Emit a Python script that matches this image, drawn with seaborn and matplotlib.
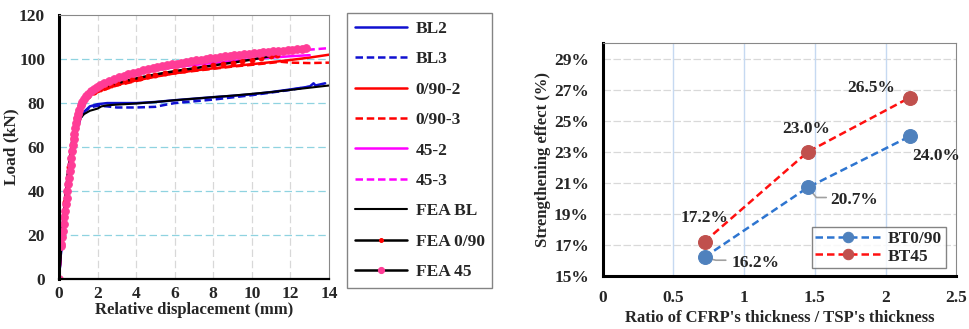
import matplotlib
matplotlib.use("Agg")
import matplotlib.pyplot as plt
import numpy as np
import pandas as pd
import seaborn as sns
from matplotlib.ticker import FuncFormatter

# ---- left panel: load vs relative displacement ----
bl2_x = [0, 0.1, 0.3, 0.5, 0.7, 0.9, 1.1, 1.3, 1.6, 2.0, 2.5, 3.0, 4.0, 5.0, 6.0, 7.0, 8.0, 9.0, 10.0, 11.0, 12.0, 13.0, 13.2, 13.3, 13.8]
bl2_y = [0, 12, 30, 45, 58, 67, 73, 76, 78.5, 79.5, 80, 80, 80, 80.5, 81.3, 82, 82.7, 83.3, 84, 85, 86.2, 87.5, 89, 88, 89]
bl3_x = [0, 0.1, 0.3, 0.5, 0.7, 0.9, 1.1, 1.3, 1.6, 2.0, 2.5, 3.0, 4.0, 5.0, 5.5, 6.0, 7.0, 8.0, 9.0, 10.0, 11.0, 12.0, 13.0]
bl3_y = [0, 12, 30, 45, 58, 67, 73, 76, 78, 78.8, 78.5, 78, 78, 78.3, 79.2, 80, 80.8, 81.6, 82.6, 83.6, 84.8, 86, 87.5]
r2_x = [0, 0.1, 0.3, 0.5, 0.7, 0.9, 1.1, 1.3, 1.6, 2.0, 2.5, 3.0, 4.0, 5.0, 6.0, 7.0, 8.0, 9.0, 10.0, 11.0, 12.0, 13.0, 14.0]
r2_y = [0, 14, 34, 50, 63, 72, 78, 81, 83.5, 85.5, 87, 88.3, 90.3, 92, 93.5, 94.8, 95.8, 96.8, 97.7, 98.6, 99.6, 100.7, 102]
r3_x = [0, 0.1, 0.3, 0.5, 0.7, 0.9, 1.1, 1.3, 1.6, 2.0, 2.5, 3.0, 4.0, 5.0, 6.0, 7.0, 8.0, 9.0, 10.0, 11.0, 11.5, 12.0, 13.0, 14.0]
r3_y = [0, 14, 34, 50, 63, 72, 77, 80.5, 83, 85, 86.5, 88, 90, 92.3, 93.6, 94.6, 95.6, 96.6, 97.4, 98.3, 98.8, 98.4, 98.2, 98.4]
m2_x = [0, 0.1, 0.3, 0.5, 0.7, 0.9, 1.1, 1.3, 1.6, 2.0, 2.5, 3.0, 4.0, 5.0, 6.0, 7.0, 8.0, 9.0, 10.0, 11.0, 12.0, 13.0]
m2_y = [0, 14, 34, 50, 63, 72, 78, 82, 85, 87.3, 89.3, 91, 93.3, 95, 96.3, 97.3, 98.3, 99.2, 100, 100.7, 101.3, 101.8]
m3_x = [0, 0.1, 0.3, 0.5, 0.7, 0.9, 1.1, 1.3, 1.6, 2.0, 2.5, 3.0, 4.0, 5.0, 6.0, 7.0, 8.0, 9.0, 10.0, 11.0, 12.0, 13.0, 14.0]
m3_y = [0, 14, 34, 50, 63, 73, 79, 83, 86, 88, 90, 91.8, 94.2, 96, 97.5, 98.7, 99.8, 100.8, 101.8, 102.7, 103.6, 104.3, 105]
fbl_x = [0, 0.1, 0.12, 0.3, 0.5, 0.7, 0.9, 1.1, 1.3, 1.6, 2.0, 2.2, 2.5, 3.0, 4.0, 5.0, 6.0, 7.0, 8.0, 9.0, 10.0, 11.0, 12.0, 13.0, 14.0]
fbl_y = [0, 15, 16, 32, 47, 60, 69, 73, 75, 76.5, 77.5, 78.5, 79, 79.3, 79.8, 80.5, 81.3, 82, 82.7, 83.4, 84.2, 85, 86, 87, 88]
f090_x = [0, 0.1, 0.3, 0.5, 0.7, 0.9, 1.1, 1.3, 1.5, 1.8, 2.1, 2.4, 2.7, 3.0, 3.4, 3.8, 4.2, 4.6, 5.0, 5.5, 6.0, 6.5, 7.0, 7.5, 8.0, 8.5, 9.0, 9.5, 10.0, 10.5, 11.0, 11.3]
f090_y = [0, 15, 35, 51, 64, 73, 78.5, 81.5, 83.3, 85, 86.3, 87.3, 88.2, 89, 89.9, 90.8, 91.6, 92.3, 93, 93.8, 94.5, 95.2, 95.8, 96.5, 97.1, 97.8, 98.4, 99.1, 99.8, 100.6, 101.5, 102]
f45_x = [0, 0.1, 0.12, 0.16, 0.2, 0.24, 0.28, 0.32, 0.36, 0.4, 0.44, 0.48, 0.52, 0.56, 0.6,
         0.64, 0.68, 0.72, 0.76, 0.8, 0.85, 0.9, 0.95, 1.0, 1.06, 1.13, 1.2, 1.3, 1.4, 1.5,
         1.65, 1.8, 1.95, 2.1, 2.35, 2.6, 2.85, 3.1, 3.35, 3.6, 3.85, 4.1, 4.35, 4.6, 4.85,
         5.1, 5.35, 5.6, 5.85, 6.1, 6.35, 6.6, 6.85, 7.1, 7.35, 7.6, 7.85, 8.1, 8.35, 8.6,
         8.85, 9.1, 9.35, 9.6, 9.85, 10.1, 10.35, 10.6, 10.85, 11.1, 11.35, 11.6, 11.85,
         12.1, 12.35, 12.6, 12.8]
f45_y = [0, 15, 16, 19, 22, 25, 28, 31, 34, 37, 40, 43, 46, 49, 52,
         55, 58, 61, 63.5, 66, 68.5, 71, 73, 75, 77, 79, 80.5, 82, 83.3, 84.3,
         85.5, 86.5, 87.3, 88.2, 89.2, 90.1, 90.9, 91.7, 92.4, 93.1, 93.7, 94.3, 94.9, 95.4, 95.9,
         96.4, 96.8, 97.2, 97.6, 98.0, 98.4, 98.8, 99.1, 99.5, 99.8, 100.1, 100.4, 100.7, 101.0, 101.3,
         101.5, 101.8, 102.0, 102.3, 102.5, 102.7, 102.9, 103.1, 103.3, 103.5, 103.7, 103.9, 104.1,
         104.3, 104.5, 104.7, 104.9]

# ---- right panel: strengthening effect ----
ratio = [0.72, 1.45, 2.17]
bt090 = [16.2, 20.7, 24.0]
bt45 = [17.2, 23.0, 26.5]

sns.set_style("white")
plt.rcParams["font.family"] = ["Liberation Serif", "DejaVu Serif"]
plt.rcParams["font.weight"] = "bold"
plt.rcParams["axes.labelweight"] = "bold"

FS = 12.5

fig = plt.figure(figsize=(9.69, 3.29), dpi=100)
ax1 = fig.add_axes([0.0609, 0.152, 0.2786, 0.802])
ax2 = fig.add_axes([0.622, 0.162, 0.365, 0.706])

dash = (0, (3, 1.5))
series = [
    ("BL2", bl2_x, bl2_y, dict(color="#1010d0", lw=1.8, ls="-")),
    ("BL3", bl3_x, bl3_y, dict(color="#1010d0", lw=1.8, ls=dash)),
    ("0/90-2", r2_x, r2_y, dict(color="#ff0000", lw=1.8, ls="-")),
    ("0/90-3", r3_x, r3_y, dict(color="#ff0000", lw=1.8, ls=dash)),
    ("45-2", m2_x, m2_y, dict(color="#ff00ff", lw=1.8, ls="-")),
    ("45-3", m3_x, m3_y, dict(color="#ff00ff", lw=1.8, ls=dash)),
    ("FEA BL", fbl_x, fbl_y, dict(color="black", lw=1.5, ls="-")),
    ("FEA 0/90", f090_x, f090_y, dict(color="black", lw=1.8, ls="-", marker="o",
                                       ms=3.5, mfc="#ff0000", mec="#ff0000")),
    ("FEA 45", f45_x, f45_y, dict(color="black", lw=1.8, ls="-", marker="o",
                                   ms=5.5, mfc="#ff3c96", mec="#ff3c96")),
]
for name, xs, ys, kw in series:
    df = pd.DataFrame({"x": xs, "y": ys})
    sns.lineplot(data=df, x="x", y="y", ax=ax1, label=name, sort=False,
                 estimator=None, **kw)

ax1.set_xlim(0, 14)
ax1.set_ylim(0, 120)
ax1.set_xticks(np.arange(0, 15, 2))
ax1.set_yticks(np.arange(0, 121, 20))
ax1.grid(False)
for yv in range(20, 120, 20):
    ax1.axhline(yv, color="#8fd3e0", lw=0.9, ls=(0, (6, 3)), zorder=0)
for xv in range(2, 14, 2):
    ax1.axvline(xv, color="#d8d8d8", lw=0.9, ls=(0, (6, 3)), zorder=0)
ax1.set_xlabel("Relative displacement (mm)", fontsize=12, fontweight="bold", labelpad=0)
ax1.set_ylabel("Load (kN)", fontsize=FS, fontweight="bold", labelpad=0)
ax1.tick_params(axis="y", labelsize=FS, length=0, pad=10)
ax1.tick_params(axis="x", labelsize=FS, length=0, pad=5)
for lab in ax1.get_xticklabels() + ax1.get_yticklabels():
    lab.set_fontweight("bold")
ax1.spines["left"].set_linewidth(2.2)
ax1.spines["left"].set_color("black")
ax1.spines["bottom"].set_linewidth(1.6)
ax1.spines["bottom"].set_color("black")
for s in ("top", "right"):
    ax1.spines[s].set_linewidth(0.8)
    ax1.spines[s].set_color("#888888")
h, l = ax1.get_legend_handles_labels()
ax1.legend_.remove()
fig.legend(h, l, loc="upper left", bbox_to_anchor=(347 / 969, 1 - 13 / 329),
           frameon=True, fancybox=False, edgecolor="#666666",
           prop={"weight": "bold", "size": FS}, handlelength=3.0,
           labelspacing=0.82, borderpad=0.45, handletextpad=0.5,
           borderaxespad=0, markerscale=0.8)

# ---- right panel ----
df2 = pd.DataFrame({"ratio": ratio * 2, "eff": bt090 + bt45,
                    "grp": ["BT0/90"] * 3 + ["BT45"] * 3})
sns.lineplot(data=df2[df2.grp == "BT0/90"], x="ratio", y="eff", ax=ax2,
             color="#2e75d0", ls=(0, (3, 1.6)), lw=1.8, marker="o", ms=10,
             mfc="#4f81bd", mec="#4f81bd", label="BT0/90")
sns.lineplot(data=df2[df2.grp == "BT45"], x="ratio", y="eff", ax=ax2,
             color="#ff1010", ls=(0, (3, 1.6)), lw=1.8, marker="o", ms=10,
             mfc="#c0504d", mec="#c0504d", label="BT45")
ax2.set_xlim(0, 2.5)
ax2.set_ylim(15, 30)
ax2.set_xticks([0, 0.5, 1, 1.5, 2, 2.5])
ax2.set_xticklabels(["0", "0.5", "1", "1.5", "2", "2.5"])
ax2.set_yticks(np.arange(15, 30, 2))
ax2.yaxis.set_major_formatter(FuncFormatter(lambda v, p: f"{v:.0f}%"))
ax2.grid(False)
for yv in range(17, 30, 2):
    ax2.axhline(yv, color="#d9d9d9", lw=0.9, ls=(0, (6, 2)), zorder=0)
for xv in [0.5, 1, 1.5, 2]:
    ax2.axvline(xv, color="#c6d9f1", lw=1.0, zorder=0)
ax2.tick_params(axis="x", labelsize=FS, length=0, pad=10)
ax2.tick_params(axis="y", labelsize=FS, length=0, pad=10)
for lab in ax2.get_xticklabels() + ax2.get_yticklabels():
    lab.set_fontweight("bold")
ax2.set_xlabel("Ratio of CFRP's thickness / TSP's thickness", fontsize=12,
               fontweight="bold", labelpad=3)
ax2.set_ylabel("Strengthening effect (%)", fontsize=12, fontweight="bold", labelpad=2)
ax2.spines["left"].set_linewidth(2.2)
ax2.spines["left"].set_color("black")
ax2.spines["bottom"].set_linewidth(2.2)
ax2.spines["bottom"].set_color("black")
for s in ("top", "right"):
    ax2.spines[s].set_linewidth(0.8)
    ax2.spines[s].set_color("#888888")

ann_kw = dict(fontsize=FS, fontweight="bold", ha="center", va="center")
ax2.text(0.72, 18.7, "17.2%", **ann_kw)
ax2.text(1.44, 24.5, "23.0%", **ann_kw)
ax2.text(1.90, 27.1, "26.5%", **ann_kw)
ax2.text(2.36, 22.7, "24.0%", **ann_kw)
ax2.text(1.78, 19.9, "20.7%", **ann_kw)
ax2.text(1.08, 15.8, "16.2%", **ann_kw)
# leader lines
ax2.plot([1.47, 1.51, 1.58], [20.5, 20.05, 20.05], color="#a0a0a0", lw=1.2, zorder=1)
ax2.plot([0.75, 0.80, 0.87], [16.1, 16.0, 16.0], color="#a0a0a0", lw=1.2, zorder=1)

ax2.legend(loc="lower right", bbox_to_anchor=(0.97, 0.033), frameon=True,
           fancybox=False, edgecolor="#666666", prop={"weight": "bold", "size": FS},
           handlelength=3.8, markerscale=0.75, labelspacing=0.1, borderpad=0.2,
           handletextpad=0.4, borderaxespad=0)

fig.savefig("out.png", dpi=100)
